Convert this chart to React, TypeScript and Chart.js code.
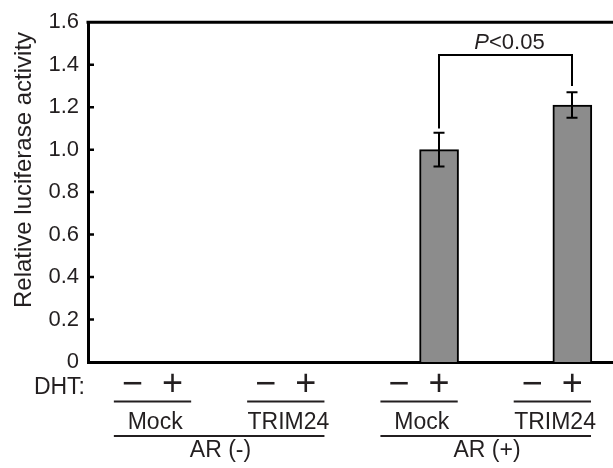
import React, { useEffect, useRef } from "react";
import { Chart, registerables } from "chart.js";

Chart.register(...registerables);

// ---- data ----
const groupLabels = ["Mock", "TRIM24", "Mock", "TRIM24"];
const arLabels = ["AR (-)", "AR (+)"];
const dhtLabels = ["\u2212", "+"];
const values = [0, 0, 0, 0, 0, 1.0, 0, 1.21];
const errors = [0, 0, 0, 0, 0, 0.08, 0, 0.06];
const yTickValues = [0, 0.2, 0.4, 0.6, 0.8, 1.0, 1.2, 1.4, 1.6];
const yTickLabels = ["0", "0.2", "0.4", "0.6", "0.8", "1.0", "1.2", "1.4", "1.6"];
const yTitle = "Relative luciferase activity";
const dhtTitle = "DHT:";
const sigFrom = 5;
const sigTo = 7;
const sigLeftY = 1.1;
const sigRightY = 1.3;
const sigTopY = 1.445;
const sigItalic = "P";
const sigRest = "<0.05";

const FONT = '"Liberation Sans", Arial, Helvetica, sans-serif';
const TEXT = "#231f20";

const xPos = (i: number) => Math.floor(i / 2) + (i % 2) * 0.3;

const annot = {
  id: "annot",
  afterDatasetsDraw(chart: any) {
    const { ctx, chartArea, scales } = chart;
    const x = scales.x;
    const y = scales.y;
    ctx.save();
    ctx.strokeStyle = "#000";
    ctx.lineCap = "butt";
    // top frame line
    ctx.lineWidth = 3;
    ctx.beginPath();
    ctx.moveTo(chartArea.left - 1.5, chartArea.top);
    ctx.lineTo(chartArea.right, chartArea.top);
    ctx.stroke();
    // inward ticks
    ctx.lineWidth = 2.5;
    ctx.beginPath();
    yTickValues.forEach((v) => {
      if (v <= 0 || v >= 1.6) return;
      const py = y.getPixelForValue(v);
      ctx.moveTo(chartArea.left, py);
      ctx.lineTo(chartArea.left + 6, py);
    });
    ctx.stroke();
    // error bars
    ctx.lineWidth = 2;
    values.forEach((v, i) => {
      const e = errors[i];
      if (!e) return;
      const px = Math.round(x.getPixelForValue(xPos(i)));
      const t = y.getPixelForValue(v + e);
      const b = y.getPixelForValue(v - e);
      ctx.beginPath();
      ctx.moveTo(px, t);
      ctx.lineTo(px, b);
      ctx.moveTo(px - 5.5, t);
      ctx.lineTo(px + 5.5, t);
      ctx.moveTo(px - 5.5, b);
      ctx.lineTo(px + 5.5, b);
      ctx.stroke();
    });
    // significance bracket
    const xl = Math.round(x.getPixelForValue(xPos(sigFrom)));
    const xr = Math.round(x.getPixelForValue(xPos(sigTo)));
    const yt = y.getPixelForValue(sigTopY);
    ctx.lineWidth = 2;
    ctx.lineJoin = "miter";
    ctx.beginPath();
    ctx.moveTo(xl, y.getPixelForValue(sigLeftY));
    ctx.lineTo(xl, yt);
    ctx.lineTo(xr, yt);
    ctx.lineTo(xr, y.getPixelForValue(sigRightY));
    ctx.stroke();
    // P<0.05
    ctx.fillStyle = TEXT;
    ctx.textBaseline = "alphabetic";
    ctx.textAlign = "left";
    ctx.font = `italic 22px ${FONT}`;
    const w1 = ctx.measureText(sigItalic).width;
    ctx.font = `22px ${FONT}`;
    const w2 = ctx.measureText(sigRest).width;
    const cx = (xl + xr) / 2 + 4;
    const sx = cx - (w1 + w2) / 2;
    const by = yt - 6.6;
    ctx.font = `italic 22px ${FONT}`;
    ctx.fillText(sigItalic, sx, by);
    ctx.font = `22px ${FONT}`;
    ctx.fillText(sigRest, sx + w1, by);
    ctx.restore();
  },
  afterDraw(chart: any) {
    const { ctx, chartArea, scales } = chart;
    const x = scales.x;
    ctx.save();
    ctx.fillStyle = TEXT;
    ctx.strokeStyle = TEXT;
    // y title
    ctx.save();
    ctx.translate(24, 170);
    ctx.rotate(-Math.PI / 2);
    ctx.font = `24px ${FONT}`;
    ctx.textAlign = "center";
    ctx.textBaseline = "middle";
    ctx.fillText(yTitle, 0, 0);
    ctx.restore();
    // DHT:
    ctx.font = `23px ${FONT}`;
    ctx.textAlign = "right";
    ctx.textBaseline = "alphabetic";
    ctx.fillText(dhtTitle, chartArea.left - 3, 394);
    // +/- and group labels
    ctx.lineWidth = 2;
    groupLabels.forEach((g, k) => {
      ctx.font = `36px ${FONT}`;
      ctx.textAlign = "center";
      ctx.textBaseline = "middle";
      dhtLabels.forEach((d, j) => {
        ctx.fillText(d, x.getPixelForValue(k + j * 0.3), 385);
      });
      ctx.beginPath();
      ctx.moveTo(x.getPixelForValue(k - 0.14), 401.5);
      ctx.lineTo(x.getPixelForValue(k + 0.44), 401.5);
      ctx.stroke();
      ctx.font = `23px ${FONT}`;
      ctx.textBaseline = "alphabetic";
      ctx.fillText(g, x.getPixelForValue(k + 0.17), 429);
    });
    arLabels.forEach((a, j) => {
      ctx.beginPath();
      ctx.moveTo(x.getPixelForValue(2 * j - 0.14), 436);
      ctx.lineTo(x.getPixelForValue(2 * j + 1.44), 436);
      ctx.stroke();
      ctx.font = `23px ${FONT}`;
      ctx.textAlign = "center";
      ctx.textBaseline = "alphabetic";
      ctx.fillText(a, x.getPixelForValue(2 * j + 0.66), 457);
    });
    ctx.restore();
  },
};

export default function App() {
  const ref = useRef<HTMLCanvasElement>(null);
  useEffect(() => {
    if (!ref.current) return;
    const chart = new Chart(ref.current, {
      type: "bar",
      data: {
        datasets: [
          {
            data: values.map((v, i) => ({ x: xPos(i), y: v })),
            backgroundColor: "#8c8c8c",
            borderColor: "#000",
            borderWidth: 2,
            barThickness: 39,
          },
        ],
      },
      options: {
        responsive: false,
        devicePixelRatio: 1,
        animation: false,
        layout: { padding: { top: 20, left: 0, right: 0, bottom: 0 } },
        plugins: { legend: { display: false }, tooltip: { enabled: false } },
        scales: {
          x: {
            type: "linear",
            offset: false,
            min: -0.334,
            max: 3.605,
            ticks: { display: false },
            grid: { display: false, drawTicks: false, offset: false },
            border: { display: true, color: "#000", width: 3 },
            afterFit: (s: any) => {
              s.height = 106;
            },
          },
          y: {
            min: 0,
            max: 1.6,
            afterBuildTicks: (s: any) => {
              s.ticks = yTickValues.map((v) => ({ value: v }));
            },
            ticks: {
              color: TEXT,
              font: { family: FONT, size: 22 },
              padding: 9,
              callback: (_v: any, i: number) => yTickLabels[i],
            },
            grid: { display: false, drawTicks: false },
            border: { display: true, color: "#000", width: 3 },
            afterFit: (s: any) => {
              s.width = 88;
            },
          },
        },
      },
      plugins: [annot],
    } as any);
    return () => chart.destroy();
  }, []);
  return (
    <div style={{ position: "absolute", left: 0, top: 0, width: 613, height: 468, background: "#fff" }}>
      <canvas ref={ref} width={613} height={468} style={{ display: "block" }} />
    </div>
  );
}
